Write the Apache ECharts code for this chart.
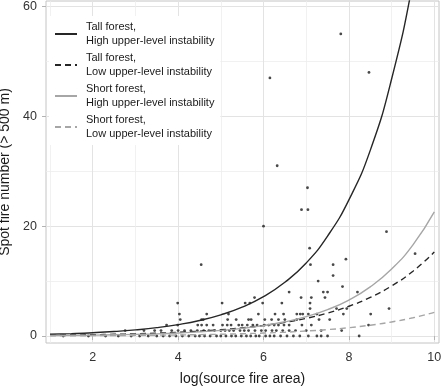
<!DOCTYPE html>
<html>
<head>
<meta charset="utf-8">
<script src="https://cdn.jsdelivr.net/npm/echarts@6/dist/echarts.min.js"></script>
<style>
  html, body { margin: 0; padding: 0; background: #fff; }
  #chart { width: 441px; height: 388px; }
</style>
</head>
<body>
<div id="chart"></div>
<script>
// observed fires: log(source fire area) vs spot fire count
const pointX = [
  7.81, 8.47, 6.15, 6.32, 7.03, 6.89, 7.04, 6.00, 8.88, 7.08, 9.55, 7.93,
  4.54, 7.10, 7.63, 7.63, 7.28, 7.85,
  6.60, 7.40, 7.50, 8.20,
  5.79, 6.88, 7.12, 7.44,
  3.99, 5.03, 5.57, 5.68, 5.98, 6.43, 7.09,
  7.09, 7.71, 7.95, 8.94,
  4.03, 4.67, 5.18, 5.88, 6.27, 6.47, 6.78, 6.86, 6.92, 7.05, 7.25, 7.87, 8.51,
  4.05, 4.55, 4.59, 5.16, 5.36, 5.65, 5.71, 6.03, 6.19, 6.35, 6.50, 6.78, 7.30, 7.55,
  3.73, 3.99, 4.46, 4.55, 4.67, 4.82, 5.04, 5.15, 5.24, 5.42, 5.50, 5.62, 5.75, 5.85,
  6.02, 6.12, 6.25, 6.35, 6.48, 6.60, 6.90, 7.12, 8.46,
  2.76, 3.20, 3.45, 3.60, 3.85, 4.00, 4.15, 4.30, 4.45, 4.60, 4.72, 4.85, 5.00, 5.10,
  5.20, 5.30, 5.45, 5.55, 5.65, 5.80, 5.95, 6.05, 6.20, 6.30, 6.45, 6.60, 6.75, 7.00,
  7.35, 7.83,
  1.31, 1.90, 2.30, 2.60, 2.90, 3.10, 3.30, 3.50, 3.65, 3.80, 3.95, 4.10, 4.25, 4.40,
  4.50, 4.62, 4.75, 4.90, 5.00, 5.12, 5.25, 5.35, 5.48, 5.60, 5.70, 5.82, 5.90, 6.05,
  6.15, 6.25, 6.40, 6.55, 6.70, 6.85, 7.05, 7.25, 7.35, 7.50, 8.24
];
const pointY = [
  55, 48, 47, 31, 27, 23, 23, 20, 19, 16, 15, 14,
  13, 13, 13, 11, 10, 9,
  8, 8, 8, 8,
  7, 7, 7, 7,
  6, 6, 6, 6, 6, 6, 6,
  5, 5, 5, 5,
  4, 4, 4, 4, 4, 4, 4, 4, 4, 4, 4, 4, 4,
  3, 3, 3, 3, 3, 3, 3, 3, 3, 3, 3, 3, 3, 3,
  2, 2, 2, 2, 2, 2, 2, 2, 2, 2, 2, 2, 2, 2,
  2, 2, 2, 2, 2, 2, 2, 2, 2,
  1, 1, 1, 1, 1, 1, 1, 1, 1, 1, 1, 1, 1, 1,
  1, 1, 1, 1, 1, 1, 1, 1, 1, 1, 1, 1, 1, 1,
  1, 1,
  0, 0, 0, 0, 0, 0, 0, 0, 0, 0, 0, 0, 0, 0,
  0, 0, 0, 0, 0, 0, 0, 0, 0, 0, 0, 0, 0, 0,
  0, 0, 0, 0, 0, 0, 0, 0, 0, 0, 0
];

// fitted curves
const curveX = [1, 1.5, 2, 2.5, 3, 3.5, 4, 4.5, 5, 5.5, 6, 6.5, 7, 7.5, 8, 8.5, 9, 9.5, 10];
const tallHigh = [0.32, 0.44, 0.60, 0.82, 1.12, 1.52, 2.08, 2.83, 3.86, 5.26, 7.17, 9.78, 13.3, 18.2, 24.8, 33.8, 46.8, 64.5, 88.0];
const tallLow = [0.14, 0.19, 0.24, 0.31, 0.40, 0.52, 0.68, 0.88, 1.14, 1.48, 1.92, 2.48, 3.22, 4.18, 5.42, 7.03, 9.12, 11.8, 15.3];
const shortHigh = [0.09, 0.12, 0.16, 0.22, 0.30, 0.40, 0.55, 0.75, 1.02, 1.39, 1.90, 2.59, 3.53, 4.81, 6.55, 8.94, 12.2, 16.6, 22.6];
const shortLow = [0.04, 0.05, 0.07, 0.09, 0.11, 0.15, 0.19, 0.25, 0.32, 0.42, 0.54, 0.70, 0.91, 1.17, 1.52, 1.97, 2.56, 3.32, 4.31];

const curveNames = [
    'Tall forest,\nHigh upper-level instability',
    'Tall forest,\nLow upper-level instability',
    'Short forest,\nHigh upper-level instability',
    'Short forest,\nLow upper-level instability'
];

const xMajor = [2, 4, 6, 8, 10];
const xMinor = [1, 3, 5, 7, 9];
const yMajor = [0, 20, 40, 60];
const yMinor = [10, 30, 50];

const zip = (xs, ys) => xs.map((x, i) => [x, ys[i]]);

const chart = echarts.init(document.getElementById('chart'), null, { renderer: 'canvas' });

const font = 'Liberation Sans, Arial, sans-serif';
const gridColor = '#e3e3e3';
const xRange = { min: 0.906, max: 10.11 };
const yRange = { min: -1.27, max: 61.0 };

const curveSeries = (name, values, color, type) => ({
    name: name,
    type: 'line',
    data: zip(curveX, values),
    smooth: true,
    symbol: 'none',
    clip: true,
    lineStyle: { color: color, width: 1.4, type: type },
    itemStyle: { color: color },
    z: 3
});

const option = {
    animation: false,
    backgroundColor: '#fff',
    textStyle: { fontFamily: font },
    grid: {
        left: 46, top: 1, width: 393, height: 342,
        containLabel: false,
        outerBoundsMode: 'none',
        show: true, borderColor: '#c4c4c4', borderWidth: 1, backgroundColor: 'transparent'
    },
    legend: {
        orient: 'vertical',
        left: 49, top: 16,
        padding: [4, 6, 4, 5],
        backgroundColor: '#fff',
        itemWidth: 22, itemHeight: 10,
        itemGap: 3,
        itemStyle: { opacity: 0 },
        data: curveNames,
        textStyle: { fontSize: 11, lineHeight: 14, color: '#1a1a1a', fontFamily: font, padding: [0, 0, 0, 4] }
    },
    xAxis: [
        {
            type: 'value', ...xRange,
            name: 'log(source fire area)', nameLocation: 'middle', nameGap: 29,
            nameTextStyle: { fontSize: 14, color: '#1a1a1a' },
            axisLine: { show: false },
            axisTick: { show: true, length: 4, customValues: xMajor, lineStyle: { color: '#b3b3b3' } },
            axisLabel: { customValues: xMajor, fontSize: 12.5, color: '#333', margin: 8 },
            splitLine: { show: true, lineStyle: { color: gridColor, width: 1 } }
        },
        {
            type: 'value', ...xRange,
            axisLine: { show: false },
            axisTick: { show: false, customValues: xMinor },
            axisLabel: { show: false, customValues: xMinor },
            splitLine: { show: true, lineStyle: { color: '#eeeeee', width: 0.8 } }
        }
    ],
    yAxis: [
        {
            type: 'value', ...yRange,
            name: 'Spot fire number (> 500 m)', nameLocation: 'middle', nameGap: 32,
            nameTextStyle: { fontSize: 14, color: '#1a1a1a' },
            axisLine: { show: false },
            axisTick: { show: true, length: 4, customValues: yMajor, lineStyle: { color: '#b3b3b3' } },
            axisLabel: { customValues: yMajor, fontSize: 12.5, color: '#333', margin: 9 },
            splitLine: { show: true, lineStyle: { color: gridColor, width: 1 } }
        },
        {
            type: 'value', ...yRange,
            axisLine: { show: false },
            axisTick: { show: false, customValues: yMinor },
            axisLabel: { show: false, customValues: yMinor },
            splitLine: { show: true, lineStyle: { color: '#eeeeee', width: 0.8 } }
        }
    ],
    series: [
        {
            name: 'observed',
            type: 'scatter',
            data: zip(pointX, pointY),
            symbolSize: 2.8,
            itemStyle: { color: '#1a1a1a' },
            z: 2
        },
        curveSeries(curveNames[0], tallHigh, '#262626', 'solid'),
        curveSeries(curveNames[1], tallLow, '#262626', [6, 4]),
        curveSeries(curveNames[2], shortHigh, '#a6a6a6', 'solid'),
        curveSeries(curveNames[3], shortLow, '#a6a6a6', [6, 4])
    ]
};

chart.setOption(option);
window.addEventListener('resize', chart.resize);
</script>
</body>
</html>
